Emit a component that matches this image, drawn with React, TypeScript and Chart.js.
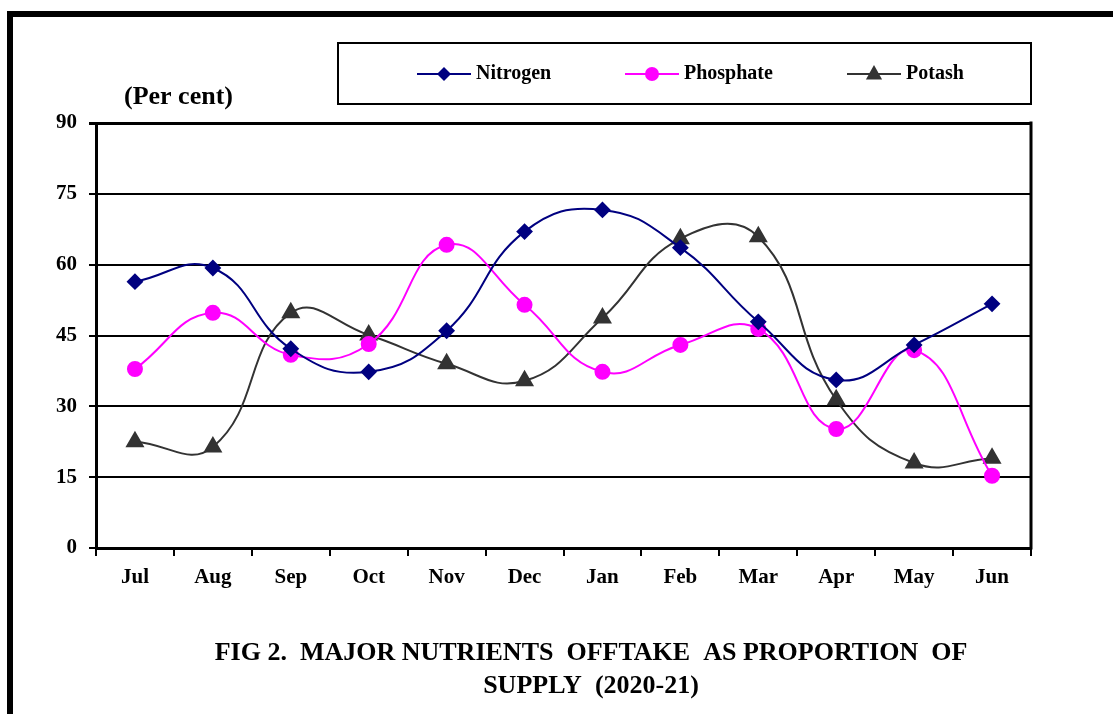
import React, { useEffect, useRef } from "react";
import { Chart, registerables } from "chart.js";

Chart.register(...registerables);

const months = ["Jul", "Aug", "Sep", "Oct", "Nov", "Dec", "Jan", "Feb", "Mar", "Apr", "May", "Jun"];
const nitrogen = [56.4, 59.3, 42.2, 37.3, 46.0, 67.0, 71.6, 63.6, 47.9, 35.6, 43.0, 51.7];
const phosphate = [37.9, 49.8, 40.9, 43.2, 64.2, 51.5, 37.3, 43.0, 46.4, 25.2, 41.9, 15.3];
const potash = [22.5, 21.4, 49.8, 45.1, 39.0, 35.4, 48.7, 65.5, 65.9, 31.4, 18.0, 19.0];
const yTicks = [0, 15, 30, 45, 60, 75, 90];
const titleLines = ["FIG 2.  MAJOR NUTRIENTS  OFFTAKE  AS PROPORTION  OF", "SUPPLY  (2020-21)"];
const unitLabel = "(Per cent)";

const FONT = "'Liberation Serif', 'Times New Roman', serif";

const decorPlugin = {
  id: "decor",
  afterDraw(chart: any) {
    const ctx = chart.ctx;
    const ca = chart.chartArea;
    ctx.save();
    // right border of plot
    ctx.strokeStyle = "#000";
    ctx.lineWidth = 3;
    ctx.beginPath();
    ctx.moveTo(ca.right, ca.top - 1.5);
    ctx.lineTo(ca.right, ca.bottom + 1.5);
    ctx.stroke();
    // unit label
    ctx.fillStyle = "#000";
    ctx.font = `bold 26px ${FONT}`;
    ctx.textAlign = "left";
    ctx.textBaseline = "middle";
    ctx.fillText(unitLabel, 124, 97);
    // title
    ctx.textAlign = "center";
    ctx.font = `bold 26px ${FONT}`;
    ctx.fillText(titleLines[0], 591, 653);
    ctx.fillText(titleLines[1], 591, 686);
    // legend box
    ctx.lineWidth = 2;
    ctx.strokeRect(338, 43, 693, 61);
    const items = [
      { ds: 0, x: 444 },
      { ds: 1, x: 652 },
      { ds: 2, x: 874 },
    ];
    ctx.font = `bold 20px ${FONT}`;
    ctx.textAlign = "left";
    for (const it of items) {
      const ds = chart.data.datasets[it.ds];
      const y = 74;
      ctx.strokeStyle = ds.borderColor;
      ctx.lineWidth = 2;
      ctx.beginPath();
      ctx.moveTo(it.x - 27, y);
      ctx.lineTo(it.x + 27, y);
      ctx.stroke();
      ctx.fillStyle = ds.pointBackgroundColor;
      ctx.strokeStyle = ds.pointBackgroundColor;
      const r = ds.pointRadius;
      ctx.beginPath();
      if (ds.pointStyle === "rectRot") {
        ctx.moveTo(it.x, y - r);
        ctx.lineTo(it.x + r, y);
        ctx.lineTo(it.x, y + r);
        ctx.lineTo(it.x - r, y);
        ctx.closePath();
      } else if (ds.pointStyle === "triangle") {
        ctx.moveTo(it.x, y - r);
        ctx.lineTo(it.x + r * 0.9, y + r * 0.6);
        ctx.lineTo(it.x - r * 0.9, y + r * 0.6);
        ctx.closePath();
      } else {
        ctx.arc(it.x, y, r, 0, Math.PI * 2);
      }
      ctx.fill();
      ctx.fillStyle = "#000";
      ctx.fillText(ds.label, it.x + 32, y);
    }
    ctx.restore();
  },
};

export default function App() {
  const ref = useRef<HTMLCanvasElement>(null);
  useEffect(() => {
    document.body.style.margin = "0";
    const canvas = ref.current!;
    const chart = new Chart(canvas, {
      type: "line",
      data: {
        labels: months,
        datasets: [
          {
            label: "Nitrogen",
            data: nitrogen,
            borderColor: "#000080",
            backgroundColor: "#000080",
            pointBackgroundColor: "#000080",
            pointBorderColor: "#000080",
            pointStyle: "rectRot",
            pointRadius: 7,
            borderWidth: 2,
            tension: 0.45,
          },
          {
            label: "Phosphate",
            data: phosphate,
            borderColor: "#FF00FF",
            backgroundColor: "#FF00FF",
            pointBackgroundColor: "#FF00FF",
            pointBorderColor: "#FF00FF",
            pointStyle: "circle",
            pointRadius: 7,
            borderWidth: 2,
            tension: 0.45,
          },
          {
            label: "Potash",
            data: potash,
            borderColor: "#333333",
            backgroundColor: "#333333",
            pointBackgroundColor: "#333333",
            pointBorderColor: "#333333",
            pointStyle: "triangle",
            pointRadius: 9,
            borderWidth: 2,
            tension: 0.45,
          },
        ] as any,
      },
      options: {
        animation: false,
        responsive: false,
        maintainAspectRatio: false,
        layout: { padding: { top: 123, right: 82, left: 0, bottom: 0 } },
        plugins: {
          legend: { display: false },
          tooltip: { enabled: false },
          title: { display: false },
        },
        scales: {
          x: {
            offset: true,
            grid: {
              offset: true,
              drawOnChartArea: false,
              drawTicks: true,
              tickLength: 8,
              color: "#000",
              lineWidth: 2,
            },
            border: { display: true, color: "#000", width: 3 },
            ticks: {
              color: "#000",
              font: { family: FONT, size: 21, weight: "bold" },
              padding: 9,
              maxRotation: 0,
            },
            afterFit(scale: any) {
              scale.height = 714 - 548;
            },
          },
          y: {
            min: 0,
            max: 90,
            afterBuildTicks(scale: any) {
              scale.ticks = yTicks.map((v) => ({ value: v }));
            },
            grid: {
              color: "#000",
              lineWidth: (c: any) => (c.tick && c.tick.value === 90 ? 3 : 2),
              drawTicks: true,
              tickLength: 7,
            },
            border: { display: true, color: "#000", width: 3 },
            ticks: {
              color: "#000",
              font: { family: FONT, size: 21, weight: "bold" },
              padding: 12,
            },
            afterFit(scale: any) {
              scale.width = 96;
            },
          },
        },
      },
      plugins: [decorPlugin],
    });
    return () => chart.destroy();
  }, []);
  return (
    <div style={{ position: "relative", width: 1113, height: 714, overflow: "hidden", background: "#fff" }}>
      <canvas ref={ref} width={1113} height={714} style={{ position: "absolute", left: 0, top: 0 }} />
      <div
        style={{
          position: "absolute",
          left: 7,
          top: 11,
          right: -10,
          bottom: -10,
          borderTop: "6px solid #000",
          borderLeft: "6px solid #000",
          pointerEvents: "none",
        }}
      />
    </div>
  );
}
